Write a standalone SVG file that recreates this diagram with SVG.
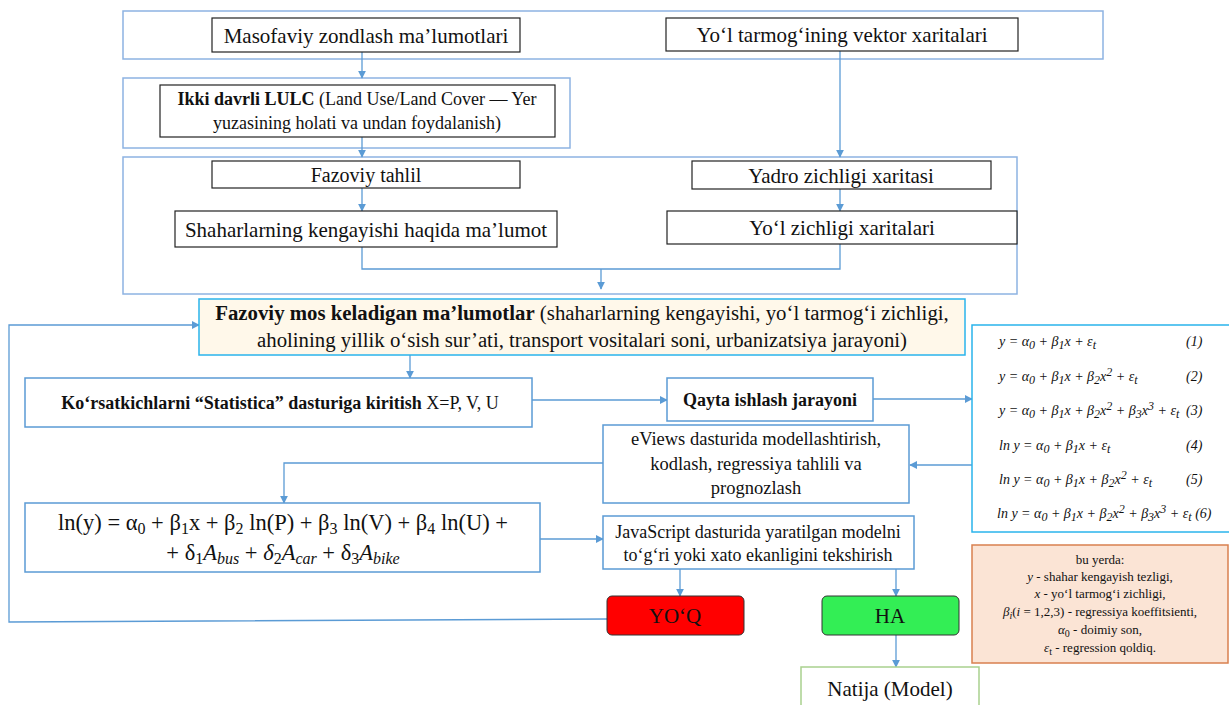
<svg xmlns="http://www.w3.org/2000/svg" width="1229" height="705" viewBox="0 0 1229 705">
<style>
text{font-family:"Liberation Serif","Times New Roman",serif;fill:#111}
.c{text-anchor:middle}
.grp{fill:#fff;stroke:#8db3e2;stroke-width:1.5}
.blk{fill:#fff;stroke:#222;stroke-width:1.2}
.blu{fill:#fff;stroke:#5b9bd5;stroke-width:1.5}
.cy{stroke:#2ab4ec;stroke-width:1.5}
.ln{fill:none;stroke:#5b9bd5;stroke-width:1.3}
.f{font-style:italic;font-size:14px}
.n{font-size:12px}
.nt{font-size:13px}
</style>
<defs>
<marker id="ah" viewBox="0 0 10 10" refX="9" refY="5" markerWidth="8" markerHeight="8" markerUnits="userSpaceOnUse" orient="auto">
<path d="M0,0 L10,5 L0,10 z" fill="#5b9bd5"/>
</marker>
</defs>
<rect width="1229" height="705" fill="#fff"/>

<g id="group-top"><rect class="grp" x="123" y="11" width="980" height="48"/></g>
<g id="group-lulc"><rect class="grp" x="123" y="78" width="447" height="70"/></g>
<g id="group-mid"><rect class="grp" x="123" y="157" width="894" height="137"/></g>

<g id="connectors">
<line class="ln" x1="362" y1="52" x2="362" y2="78" marker-end="url(#ah)"/>
<line class="ln" x1="840" y1="51" x2="840" y2="157" marker-end="url(#ah)"/>
<line class="ln" x1="362" y1="137" x2="362" y2="157" marker-end="url(#ah)"/>
<line class="ln" x1="362" y1="188" x2="362" y2="211" marker-end="url(#ah)"/>
<line class="ln" x1="840" y1="189" x2="840" y2="211" marker-end="url(#ah)"/>
<polyline class="ln" points="362,247 362,269 840,269 840,244"/>
<line class="ln" x1="601" y1="269" x2="601" y2="289" marker-end="url(#ah)"/>
<line class="ln" x1="410" y1="355" x2="410" y2="378" marker-end="url(#ah)"/>
<line class="ln" x1="532" y1="400" x2="667" y2="400" marker-end="url(#ah)"/>
<line class="ln" x1="873" y1="399" x2="972" y2="399" marker-end="url(#ah)"/>
<line class="ln" x1="972" y1="465" x2="910" y2="465" marker-end="url(#ah)"/>
<polyline class="ln" points="603,463 284,463 284,503" marker-end="url(#ah)"/>
<line class="ln" x1="540" y1="539" x2="603" y2="539" marker-end="url(#ah)"/>
<line class="ln" x1="680" y1="569" x2="680" y2="596" marker-end="url(#ah)"/>
<line class="ln" x1="896" y1="569" x2="896" y2="596" marker-end="url(#ah)"/>
<line class="ln" x1="896" y1="635" x2="896" y2="667" marker-end="url(#ah)"/>
<polyline class="ln" points="607,619 9,622 9,325 199,325" marker-end="url(#ah)"/>
</g>

<g id="n-masofaviy"><rect class="blk" x="212" y="18" width="308" height="34"/>
<text class="c" x="366" y="43" font-size="21">Masofaviy zondlash ma’lumotlari</text></g>

<g id="n-yol-vektor"><rect class="blk" x="666" y="18" width="352" height="33"/>
<text class="c" x="842" y="42" font-size="21">Yo‘l tarmog‘ining vektor xaritalari</text></g>

<g id="n-lulc"><rect class="blk" x="160" y="85" width="395" height="52"/>
<text class="c" x="357" y="105" font-size="18"><tspan font-weight="bold">Ikki davrli LULC</tspan> (Land Use/Land Cover — Yer</text>
<text class="c" x="357" y="129" font-size="18">yuzasining holati va undan foydalanish)</text></g>

<g id="n-fazoviy-tahlil"><rect class="blk" x="212" y="161" width="308" height="27"/>
<text class="c" x="366" y="182" font-size="20">Fazoviy tahlil</text></g>

<g id="n-shahar"><rect class="blk" x="175" y="211" width="382" height="36"/>
<text class="c" x="366" y="237" font-size="21">Shaharlarning kengayishi haqida ma’lumot</text></g>

<g id="n-yadro"><rect class="blk" x="692" y="161" width="299" height="28"/>
<text class="c" x="841" y="183" font-size="21">Yadro zichligi xaritasi</text></g>

<g id="n-yol-zich"><rect class="blk" x="667" y="211" width="350" height="33"/>
<text class="c" x="842" y="235" font-size="21">Yo‘l zichligi xaritalari</text></g>

<g id="n-fazoviy-mos"><rect class="cy" fill="#fff8ea" x="199" y="299" width="766" height="56"/>
<text class="c" x="582" y="320" font-size="20.8"><tspan font-weight="bold">Fazoviy mos keladigan ma’lumotlar</tspan> (shaharlarning kengayishi, yo‘l tarmog‘i zichligi,</text>
<text class="c" x="582" y="347" font-size="20.8">aholining yillik o‘sish sur’ati, transport vositalari soni, urbanizatsiya jarayoni)</text></g>

<g id="n-korsat"><rect class="blu" x="25" y="378" width="507" height="49"/>
<text class="c" x="280" y="409" font-size="18"><tspan font-weight="bold">Ko‘rsatkichlarni “Statistica” dasturiga kiritish</tspan> X=P, V, U</text></g>

<g id="n-qayta"><rect class="blu" x="667" y="378" width="206" height="43"/>
<text class="c" x="770" y="406" font-size="18" font-weight="bold">Qayta ishlash jarayoni</text></g>

<g id="n-eviews"><rect class="blu" x="603" y="425" width="306" height="78"/>
<text class="c" x="756" y="445" font-size="18.5">eViews dasturida modellashtirish,</text>
<text class="c" x="756" y="470" font-size="18.5">kodlash, regressiya tahlili va</text>
<text class="c" x="756" y="494" font-size="18.5">prognozlash</text></g>

<g id="n-formula"><rect class="blu" x="25" y="503" width="515" height="69"/>
<text class="c" x="283" y="530" font-size="22.5">ln(y) = α<tspan font-size="16" dy="4">0</tspan><tspan dy="-4"> + β</tspan><tspan font-size="16" dy="4">1</tspan><tspan dy="-4">x + β</tspan><tspan font-size="16" dy="4">2</tspan><tspan dy="-4"> ln(P) + β</tspan><tspan font-size="16" dy="4">3</tspan><tspan dy="-4"> ln(V) + β</tspan><tspan font-size="16" dy="4">4</tspan><tspan dy="-4"> ln(U) +</tspan></text>
<text class="c" x="283" y="560" font-size="22.5">+ δ<tspan font-size="16" dy="4">1</tspan><tspan dy="-4" font-style="italic">A</tspan><tspan font-size="16" dy="4" font-style="italic">bus</tspan><tspan dy="-4"> + </tspan><tspan font-style="italic">δ</tspan><tspan font-size="16" dy="4">2</tspan><tspan dy="-4" font-style="italic">A</tspan><tspan font-size="16" dy="4" font-style="italic">car</tspan><tspan dy="-4"> + δ</tspan><tspan font-size="16" dy="4">3</tspan><tspan dy="-4" font-style="italic">A</tspan><tspan font-size="16" dy="4" font-style="italic">bike</tspan></text></g>

<g id="n-js"><rect class="blu" x="603" y="516" width="311" height="53"/>
<text class="c" x="758" y="538" font-size="18">JavaScript dasturida yaratilgan modelni</text>
<text class="c" x="758" y="561" font-size="18">to‘g‘ri yoki xato ekanligini tekshirish</text></g>

<g id="n-yoq"><rect x="607" y="596" width="137" height="39" rx="5" fill="#ff0000" stroke="#333" stroke-width="1"/>
<text class="c" x="675" y="623" font-size="21">YO‘Q</text></g>

<g id="n-ha"><rect x="822" y="596" width="137" height="39" rx="5" fill="#33ee55" stroke="#333" stroke-width="1"/>
<text class="c" x="890" y="623" font-size="21">HA</text></g>

<g id="n-natija"><rect x="801" y="667" width="178" height="45" fill="#fff" stroke="#a9d18e" stroke-width="1.5"/>
<text class="c" x="890" y="696" font-size="21">Natija (Model)</text></g>

<g id="n-formulas"><rect class="cy" fill="#fff" x="972" y="325" width="262" height="207"/>
<text class="f" x="999" y="346">y = α<tspan class="n" dy="3">0</tspan><tspan dy="-3"> + β</tspan><tspan class="n" dy="3">1</tspan><tspan dy="-3">x + ε</tspan><tspan class="n" dy="3">t</tspan></text>
<text class="f" x="1186" y="346">(1)</text>
<text class="f" x="999" y="381">y = α<tspan class="n" dy="3">0</tspan><tspan dy="-3"> + β</tspan><tspan class="n" dy="3">1</tspan><tspan dy="-3">x + β</tspan><tspan class="n" dy="3">2</tspan><tspan dy="-3">x</tspan><tspan class="n" dy="-5">2</tspan><tspan dy="5"> + ε</tspan><tspan class="n" dy="3">t</tspan></text>
<text class="f" x="1186" y="381">(2)</text>
<text class="f" x="999" y="415">y = α<tspan class="n" dy="3">0</tspan><tspan dy="-3"> + β</tspan><tspan class="n" dy="3">1</tspan><tspan dy="-3">x + β</tspan><tspan class="n" dy="3">2</tspan><tspan dy="-3">x</tspan><tspan class="n" dy="-5">2</tspan><tspan dy="5"> + β</tspan><tspan class="n" dy="3">3</tspan><tspan dy="-3">x</tspan><tspan class="n" dy="-5">3</tspan><tspan dy="5"> + ε</tspan><tspan class="n" dy="3">t</tspan></text>
<text class="f" x="1186" y="415">(3)</text>
<text class="f" x="999" y="450">ln y = α<tspan class="n" dy="3">0</tspan><tspan dy="-3"> + β</tspan><tspan class="n" dy="3">1</tspan><tspan dy="-3">x + ε</tspan><tspan class="n" dy="3">t</tspan></text>
<text class="f" x="1186" y="450">(4)</text>
<text class="f" x="999" y="484">ln y = α<tspan class="n" dy="3">0</tspan><tspan dy="-3"> + β</tspan><tspan class="n" dy="3">1</tspan><tspan dy="-3">x + β</tspan><tspan class="n" dy="3">2</tspan><tspan dy="-3">x</tspan><tspan class="n" dy="-5">2</tspan><tspan dy="5"> + ε</tspan><tspan class="n" dy="3">t</tspan></text>
<text class="f" x="1186" y="484">(5)</text>
<text class="f" x="997" y="518">ln y = α<tspan class="n" dy="3">0</tspan><tspan dy="-3"> + β</tspan><tspan class="n" dy="3">1</tspan><tspan dy="-3">x + β</tspan><tspan class="n" dy="3">2</tspan><tspan dy="-3">x</tspan><tspan class="n" dy="-5">2</tspan><tspan dy="5"> + β</tspan><tspan class="n" dy="3">3</tspan><tspan dy="-3">x</tspan><tspan class="n" dy="-5">3</tspan><tspan dy="5"> + ε</tspan><tspan class="n" dy="3">t</tspan><tspan dy="-3"> (6)</tspan></text></g>

<g id="n-notes"><rect x="972" y="545" width="256" height="118" fill="#fbe4d5" stroke="#d9804f" stroke-width="1.5"/>
<text class="c nt" x="1100" y="564">bu yerda:</text>
<text class="c nt" x="1100" y="581"><tspan font-style="italic">y</tspan> - shahar kengayish tezligi,</text>
<text class="c nt" x="1100" y="598"><tspan font-style="italic">x</tspan> - yo‘l tarmog‘i zichligi,</text>
<text class="c nt" x="1100" y="616"><tspan font-style="italic">β</tspan><tspan font-style="italic" font-size="10" dy="3">i</tspan><tspan dy="-3">(</tspan><tspan font-style="italic">i</tspan> = 1,2,3) - regressiya koeffitsienti,</text>
<text class="c nt" x="1100" y="634"><tspan font-style="italic">α</tspan><tspan font-size="10" dy="3">0</tspan><tspan dy="-3"> - doimiy son,</tspan></text>
<text class="c nt" x="1100" y="652"><tspan font-style="italic">ε</tspan><tspan font-size="10" dy="3">t</tspan><tspan dy="-3"> - regression qoldiq.</tspan></text></g>
</svg>
